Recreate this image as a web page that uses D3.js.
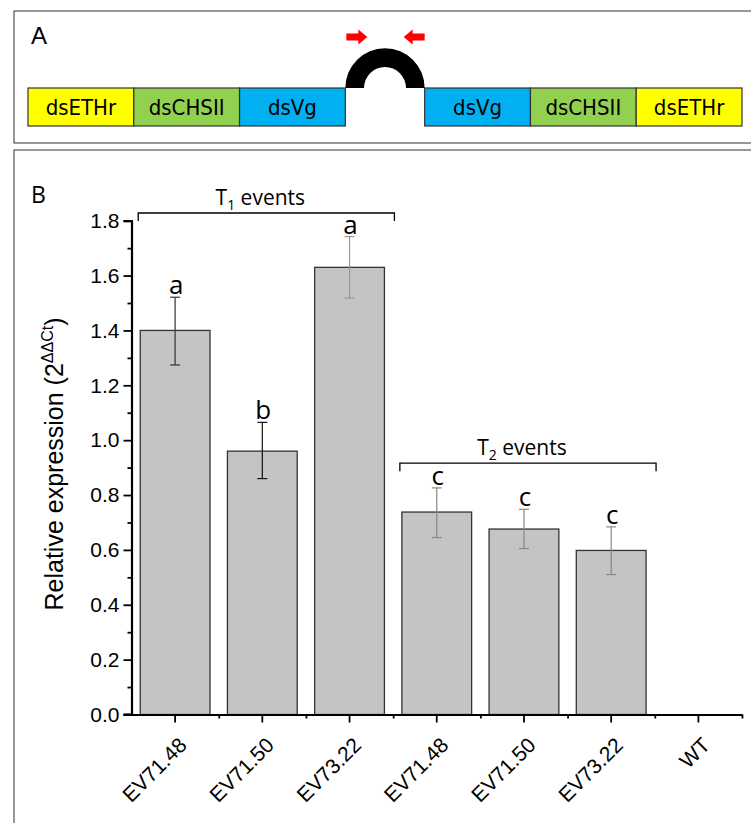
<!DOCTYPE html>
<html>
<head>
<meta charset="utf-8">
<script src="https://cdn.jsdelivr.net/npm/d3@7"></script>
<style>
  body { margin: 0; background: #fff; }
  text { fill: #000; }
</style>
</head>
<body>
<div id="chart"></div>
<script>
// panel A construct
var segNames = ["dsETHr", "dsCHSII", "dsVg", "dsVg", "dsCHSII", "dsETHr"];
var segColors = ["#ffff00", "#92d050", "#00b0f0", "#00b0f0", "#92d050", "#ffff00"];
var segStart = [0, 1, 2, 3.75, 4.75, 5.75];

// panel B data
var lines = ["EV71.48", "EV71.50", "EV73.22", "EV71.48", "EV71.50", "EV73.22", "WT"];
var expr = [1.40, 0.96, 1.63, 0.738, 0.676, 0.598, 0];
var errHigh = [1.521, 1.065, 1.742, 0.826, 0.748, 0.684, null];
var errLow = [1.274, 0.860, 1.518, 0.645, 0.605, 0.510, null];
var letters = ["a", "b", "a", "c", "c", "c", ""];
var groupNames = ["1", "2"];
var groupFirst = [0, 3];
var groupLast = [2, 5];
var groupLevel = [1.828, 0.916];

var yTicks = [0, 0.2, 0.4, 0.6, 0.8, 1.0, 1.2, 1.4, 1.6, 1.8];

var svgWidth = 751;
var svgHeight = 823;

var svg = d3.select("#chart")
    .append("svg")
    .attr("width", svgWidth)
    .attr("height", svgHeight)
    .style("font-family", "'Liberation Sans', Arial, sans-serif");

svg.append("rect").attr("width", svgWidth).attr("height", svgHeight).attr("fill", "#fff");

// ---------- panel A ----------
svg.append("rect")
    .attr("x", 14).attr("y", 11)
    .attr("width", 800).attr("height", 132)
    .attr("fill", "none").attr("stroke", "#333").attr("stroke-width", 1);

svg.append("text")
    .attr("x", 31).attr("y", 44)
    .attr("font-size", 24)
    .text("A");

var boxTop = 88, boxBottom = 126;
var segX = d3.scaleLinear().domain([0, 6.75]).range([28, 742]);

var segs = svg.append("g").selectAll("g")
    .data(segNames)
    .enter()
    .append("g");

segs.append("rect")
    .attr("x", (d, i) => segX(segStart[i]))
    .attr("y", boxTop)
    .attr("width", (d, i) => segX(segStart[i] + 1) - segX(segStart[i]))
    .attr("height", boxBottom - boxTop)
    .attr("fill", (d, i) => segColors[i])
    .attr("stroke", "#333")
    .attr("stroke-width", 1.2);

segs.append("text")
    .attr("x", (d, i) => segX(segStart[i] + 0.5))
    .attr("y", boxTop + 27)
    .attr("text-anchor", "middle")
    .attr("font-family", "'Liberation Sans Narrow', 'DejaVu Sans Condensed', 'Liberation Sans', sans-serif")
    .attr("font-size", 22)
    .text(d => d);

// hairpin loop
var gapL = segX(3), gapR = segX(3.75);
var gapMid = (gapL + gapR) / 2;
var loopArc = d3.arc()
    .innerRadius(21)
    .outerRadius((gapR - gapL) / 2)
    .startAngle(-Math.PI / 2)
    .endAngle(Math.PI / 2);

svg.append("path")
    .attr("transform", `translate(${gapMid},${boxTop})`)
    .attr("d", loopArc())
    .attr("fill", "#000");

// primer arrows
function arrow(x0, dir) {
  var len = 21, head = 9, sh = 3.5, hh = 7.5, cy = 37;
  var tip = x0 + dir * len;
  var pts = [
    [x0, cy - sh], [tip - dir * head, cy - sh], [tip - dir * head, cy - hh],
    [tip, cy], [tip - dir * head, cy + hh], [tip - dir * head, cy + sh], [x0, cy + sh]
  ];
  svg.append("polygon")
    .attr("points", pts.map(p => p.join(",")).join(" "))
    .attr("fill", "#ff0000");
}
arrow(gapL + 1, 1);
arrow(gapR, -1);

// ---------- panel B ----------
svg.append("rect")
    .attr("x", 14).attr("y", 150)
    .attr("width", 800).attr("height", 700)
    .attr("fill", "none").attr("stroke", "#333").attr("stroke-width", 1);

svg.append("text")
    .attr("x", 31).attr("y", 203)
    .attr("font-family", "'Open Sans', sans-serif")
    .attr("font-size", 23)
    .text("B");

var x0 = 131.5, x1 = 742;
var yScale = d3.scaleLinear().domain([0, 1.8]).range([714.5, 220.7]);
var xBand = d3.scaleBand()
    .domain(d3.range(lines.length))
    .range([x0, x1])
    .paddingInner(0.2)
    .paddingOuter(0.1);
var xEdge = d3.scaleLinear().domain([0, lines.length]).range([x0, x1]);

var chart = svg.append("g");

// bars
var bars = chart.selectAll("g.bar")
    .data(expr)
    .enter()
    .append("g")
    .filter(d => d > 0);

bars.append("rect")
    .attr("x", (d, i) => xBand(i))
    .attr("y", d => yScale(d))
    .attr("width", xBand.bandwidth())
    .attr("height", d => yScale(0) - yScale(d))
    .attr("fill", "#c4c4c4")
    .attr("stroke", "#333")
    .attr("stroke-width", 1.3);

// error bars
var errColor = ["#333", "#111", "#999", "#888", "#888", "#888"];
var cap = 5;
expr.forEach(function(v, i) {
  if (errHigh[i] == null) return;
  var cx = xBand(i) + xBand.bandwidth() / 2;
  var g = chart.append("g").attr("stroke", errColor[i]).attr("stroke-width", 1.2);
  g.append("line").attr("x1", cx).attr("x2", cx)
    .attr("y1", yScale(errLow[i])).attr("y2", yScale(errHigh[i]));
  g.append("line").attr("x1", cx - cap).attr("x2", cx + cap)
    .attr("y1", yScale(errLow[i])).attr("y2", yScale(errLow[i]));
  g.append("line").attr("x1", cx - cap).attr("x2", cx + cap)
    .attr("y1", yScale(errHigh[i])).attr("y2", yScale(errHigh[i]));
  chart.append("text")
    .attr("x", cx + 1)
    .attr("y", yScale(errHigh[i]) - 3)
    .attr("text-anchor", "middle")
    .attr("font-family", "'Open Sans', sans-serif")
    .attr("font-size", 26)
    .text(letters[i]);
});

// group brackets
groupNames.forEach(function(name, k) {
  var left = xBand(groupFirst[k]) - 2;
  var right = xBand(groupLast[k]) + xBand.bandwidth() + 10;
  var yy = yScale(groupLevel[k]);
  chart.append("path")
    .attr("d", `M${left},${yy + 8}V${yy}H${right}V${yy + 8}`)
    .attr("fill", "none")
    .attr("stroke", "#000")
    .attr("stroke-width", 1.3);
  var t = chart.append("text")
    .attr("x", (left + right) / 2 - 6)
    .attr("y", yy - 8)
    .attr("text-anchor", "middle")
    .attr("font-family", "'Open Sans', sans-serif")
    .attr("font-size", 21);
  t.append("tspan").text("T");
  t.append("tspan").attr("dy", 5).attr("font-size", 14).text(name);
  t.append("tspan").attr("dy", -5).text(" events");
});

// y axis
var yAxis = chart.append("g")
    .attr("transform", `translate(${x0},0)`)
    .call(d3.axisLeft(yScale).tickValues(yTicks).tickSize(8).tickPadding(4)
      .tickFormat(d3.format(".1f")));
chart.append("g")
    .attr("transform", `translate(${x0},0)`)
    .call(d3.axisLeft(yScale).tickValues(d3.range(0.1, 1.8, 0.2)).tickSize(4).tickFormat(""))
    .select(".domain").remove();

yAxis.attr("font-family", "'Liberation Sans', Arial, sans-serif")
    .attr("font-size", 21);

// x axis
var xAxis = chart.append("g")
    .attr("transform", `translate(0,${yScale(0)})`)
    .call(d3.axisBottom(xBand).tickSize(8).tickSizeOuter(0).tickFormat(""));
chart.append("g")
    .attr("transform", `translate(0,${yScale(0)})`)
    .call(d3.axisBottom(xEdge).tickValues(d3.range(1, lines.length + 1)).tickSize(4).tickFormat(""))
    .select(".domain").remove();

chart.selectAll(".domain").attr("stroke-width", 2.2);
chart.selectAll(".tick line").attr("stroke-width", 1.8);

chart.append("line")
    .attr("x1", x0 - 8).attr("x2", x0)
    .attr("y1", yScale(0)).attr("y2", yScale(0))
    .attr("stroke", "#000").attr("stroke-width", 2.2);

chart.append("g").selectAll("text")
    .data(lines)
    .enter()
    .append("text")
    .attr("transform", (d, i) => `translate(${xBand(i) + xBand.bandwidth() / 2 + 13},${yScale(0) + 32}) rotate(-45)`)
    .attr("text-anchor", "end")
    .attr("font-size", 21)
    .text(d => d);

// y title
var yt = chart.append("text")
    .attr("transform", `translate(63,464) rotate(-90)`)
    .attr("text-anchor", "middle")
    .attr("font-size", 25);
yt.append("tspan").text("Relative expression (2");
yt.append("tspan").attr("dy", -10).attr("font-size", 16).text("ΔΔCt");
yt.append("tspan").attr("dy", 10).text(")");
</script>
</body>
</html>
